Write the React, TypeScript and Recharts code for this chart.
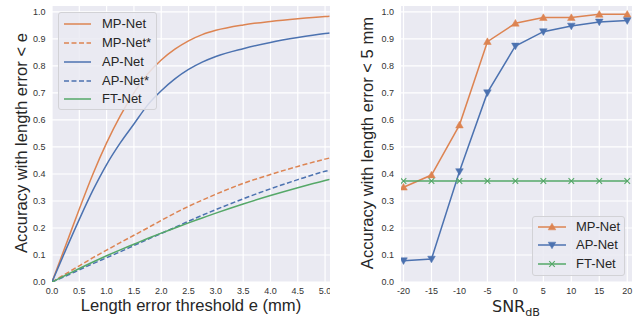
import React from 'react';
import { LineChart, Line, XAxis, YAxis, CartesianGrid } from 'recharts';

// ---------- Left panel data ----------
const LEFT_X = [0, 0.25, 0.5, 0.75, 1, 1.25, 1.5, 1.75, 2, 2.25, 2.5, 2.75, 3, 3.5, 4, 4.5, 5, 5.08];
const MP_NET = [0, 0.135, 0.27, 0.4, 0.515, 0.615, 0.7, 0.77, 0.822, 0.862, 0.893, 0.916, 0.932, 0.952, 0.965, 0.975, 0.983, 0.984];
const MP_NET_STAR = [0, 0.03, 0.06, 0.09, 0.118, 0.146, 0.173, 0.2, 0.228, 0.255, 0.28, 0.303, 0.325, 0.365, 0.398, 0.428, 0.455, 0.459];
const AP_NET = [0, 0.118, 0.232, 0.34, 0.435, 0.515, 0.585, 0.655, 0.708, 0.752, 0.787, 0.814, 0.835, 0.864, 0.887, 0.905, 0.92, 0.922];
const AP_NET_STAR = [0, 0.022, 0.045, 0.068, 0.09, 0.112, 0.135, 0.158, 0.18, 0.202, 0.225, 0.247, 0.268, 0.308, 0.345, 0.379, 0.41, 0.414];
const FT_NET = [0, 0.025, 0.05, 0.074, 0.097, 0.119, 0.14, 0.161, 0.181, 0.2, 0.219, 0.237, 0.255, 0.289, 0.32, 0.349, 0.376, 0.38];
const LEFT_X_TICKS = [0, 0.5, 1, 1.5, 2, 2.5, 3, 3.5, 4, 4.5, 5];

// ---------- Right panel data ----------
const SNR = [-20, -15, -10, -5, 0, 5, 10, 15, 20];
const MP_SNR = [0.351, 0.396, 0.581, 0.89, 0.958, 0.979, 0.979, 0.991, 0.991];
const AP_SNR = [0.079, 0.085, 0.409, 0.701, 0.874, 0.927, 0.948, 0.963, 0.968];
const FT_SNR = [0.374, 0.374, 0.374, 0.374, 0.374, 0.374, 0.374, 0.374, 0.374];
const SNR_TICKS = [-20, -15, -10, -5, 0, 5, 10, 15, 20];

const Y_TICKS = [0, 0.1, 0.2, 0.3, 0.4, 0.5, 0.6, 0.7, 0.8, 0.9, 1.0];

const ORANGE = '#DD8452';
const BLUE = '#4C72B0';
const GREEN = '#55A868';
const BG = '#EAEAF2';
const FONT = '"Liberation Sans", Arial, sans-serif';
const TICK = { fill: '#333333', fontSize: 9, fontFamily: FONT };

const leftData = LEFT_X.map((x, i) => ({
  x,
  mp: MP_NET[i],
  mps: MP_NET_STAR[i],
  ap: AP_NET[i],
  aps: AP_NET_STAR[i],
  ft: FT_NET[i],
}));

const rightData = SNR.map((x, i) => ({ x, mp: MP_SNR[i], ap: AP_SNR[i], ft: FT_SNR[i] }));

const TriUp = ({ cx, cy, color }: any) => {
  if (cx == null || cy == null) return null;
  const s = 3.8;
  return <path d={`M${cx},${cy - s} L${cx + s},${cy + s * 0.75} L${cx - s},${cy + s * 0.75} Z`} fill={color} stroke={color} strokeWidth={0.5} />;
};
const TriDown = ({ cx, cy, color }: any) => {
  if (cx == null || cy == null) return null;
  const s = 3.8;
  return <path d={`M${cx},${cy + s} L${cx + s},${cy - s * 0.75} L${cx - s},${cy - s * 0.75} Z`} fill={color} stroke={color} strokeWidth={0.5} />;
};
const XMark = ({ cx, cy, color }: any) => {
  if (cx == null || cy == null) return null;
  const s = 2.8;
  return (
    <path d={`M${cx - s},${cy - s} L${cx + s},${cy + s} M${cx - s},${cy + s} L${cx + s},${cy - s}`} stroke={color} strokeWidth={1.1} fill="none" />
  );
};

const LEFT_LEGEND = [
  { name: 'MP-Net', color: ORANGE, dash: undefined },
  { name: 'MP-Net*', color: ORANGE, dash: '5 2.5' },
  { name: 'AP-Net', color: BLUE, dash: undefined },
  { name: 'AP-Net*', color: BLUE, dash: '5 2.5' },
  { name: 'FT-Net', color: GREEN, dash: undefined },
];
const RIGHT_LEGEND = [
  { name: 'MP-Net', color: ORANGE, marker: 'up' },
  { name: 'AP-Net', color: BLUE, marker: 'down' },
  { name: 'FT-Net', color: GREEN, marker: 'x' },
];

const legendBox: React.CSSProperties = {
  position: 'absolute',
  background: 'rgba(234,234,242,0.85)',
  border: '1px solid #D2D2D6',
  borderRadius: 3,
  boxSizing: 'border-box',
  fontFamily: FONT,
  fontSize: 13,
  color: '#262626',
};

export default function App() {
  return (
    <div style={{ position: 'absolute', left: 0, top: 0, width: 638, height: 320, background: '#fff', overflow: 'hidden' }}>
      <div style={{ position: 'absolute', left: 0, top: 0 }}>
        <LineChart width={330} height={320} data={leftData} margin={{ top: 6, right: 0, bottom: 0, left: 0 }}>
          <CartesianGrid fill={BG} stroke="#FFFFFF" strokeWidth={1.2} verticalValues={LEFT_X_TICKS} horizontalValues={Y_TICKS} />
          <XAxis
            dataKey="x"
            type="number"
            domain={[0, 5.09]}
            ticks={LEFT_X_TICKS}
            allowDataOverflow
            axisLine={false}
            tickLine={false}
            tickSize={0}
            tickMargin={5.5}
            height={38}
            tick={TICK}
            tickFormatter={(v: number) => v.toFixed(1)}
            interval={0}
          />
          <YAxis
            type="number"
            domain={[0, 1.022]}
            ticks={Y_TICKS}
            allowDataOverflow
            axisLine={false}
            tickLine={false}
            tickSize={0}
            tickMargin={6.5}
            width={52}
            tick={TICK}
            tickFormatter={(v: number) => v.toFixed(1)}
            interval={0}
          />
          <Line type="monotone" dataKey="mp" stroke={ORANGE} strokeWidth={1.5} dot={false} isAnimationActive={false} />
          <Line type="monotone" dataKey="mps" stroke={ORANGE} strokeWidth={1.5} strokeDasharray="5 2.5" dot={false} isAnimationActive={false} />
          <Line type="monotone" dataKey="ap" stroke={BLUE} strokeWidth={1.5} dot={false} isAnimationActive={false} />
          <Line type="monotone" dataKey="aps" stroke={BLUE} strokeWidth={1.5} strokeDasharray="5 2.5" dot={false} isAnimationActive={false} />
          <Line type="monotone" dataKey="ft" stroke={GREEN} strokeWidth={1.5} dot={false} isAnimationActive={false} />
        </LineChart>
      </div>

      <div style={{ position: 'absolute', left: 330, top: 0 }}>
        <LineChart width={308} height={320} data={rightData} margin={{ top: 6, right: 6, bottom: 0, left: 0 }}>
          <CartesianGrid fill={BG} stroke="#FFFFFF" strokeWidth={1.2} verticalValues={SNR_TICKS} horizontalValues={Y_TICKS} />
          <XAxis
            dataKey="x"
            type="number"
            domain={[-20.45, 20.85]}
            ticks={SNR_TICKS}
            allowDataOverflow
            axisLine={false}
            tickLine={false}
            tickSize={0}
            tickMargin={5.5}
            height={38}
            tick={TICK}
            interval={0}
          />
          <YAxis
            type="number"
            domain={[0, 1.022]}
            ticks={Y_TICKS}
            allowDataOverflow
            axisLine={false}
            tickLine={false}
            tickSize={0}
            tickMargin={7}
            width={71}
            tick={TICK}
            tickFormatter={(v: number) => v.toFixed(1)}
            interval={0}
          />
          <Line type="linear" dataKey="mp" stroke={ORANGE} strokeWidth={1.5} isAnimationActive={false}
            dot={(p: any) => <TriUp key={`u${p.index}`} cx={p.cx} cy={p.cy} color={ORANGE} />} />
          <Line type="linear" dataKey="ap" stroke={BLUE} strokeWidth={1.5} isAnimationActive={false}
            dot={(p: any) => <TriDown key={`d${p.index}`} cx={p.cx} cy={p.cy} color={BLUE} />} />
          <Line type="linear" dataKey="ft" stroke={GREEN} strokeWidth={1.5} isAnimationActive={false}
            dot={(p: any) => <XMark key={`x${p.index}`} cx={p.cx} cy={p.cy} color={GREEN} />} />
        </LineChart>
      </div>

      {/* Axis titles */}
      <svg width={638} height={320} style={{ position: 'absolute', left: 0, top: 0, pointerEvents: 'none' }}>
        <text x={191} y={311} textAnchor="middle" fontFamily={FONT} fontSize={16.6} fill="#262626">
          Length error threshold e (mm)
        </text>
        <text x={27} y={143} transform="rotate(-90 27 143)" textAnchor="middle" fontFamily={FONT} fontSize={16.6} fill="#262626">
          Accuracy with length error &lt; e
        </text>
        <text x={373} y={143} transform="rotate(-90 373 143)" textAnchor="middle" fontFamily={FONT} fontSize={16.6} fill="#262626">
          Accuracy with length error &lt; 5 mm
        </text>
        <text x={516} y={311.5} textAnchor="middle" fontFamily='"DejaVu Sans", sans-serif' fill="#262626">
          <tspan fontSize={16}>SNR</tspan>
          <tspan fontSize={11.2} dy={4.5}>dB</tspan>
        </text>
      </svg>

      {/* Left legend */}
      <div style={{ ...legendBox, left: 58, top: 12, width: 99, height: 98 }}>
        {LEFT_LEGEND.map((e, i) => (
          <div key={e.name} style={{ position: 'absolute', left: 0, top: 11.3 + i * 18.75 - 9, height: 18, display: 'flex', alignItems: 'center' }}>
            <svg width={40} height={18} style={{ display: 'block' }}>
              <line x1={5} x2={32} y1={9} y2={9} stroke={e.color} strokeWidth={1.5} strokeDasharray={e.dash} />
            </svg>
            <span style={{ marginLeft: 3, whiteSpace: 'nowrap', lineHeight: '18px' }}>{e.name}</span>
          </div>
        ))}
      </div>

      {/* Right legend */}
      <div style={{ ...legendBox, left: 532, top: 215.5, width: 93, height: 60.5 }}>
        {RIGHT_LEGEND.map((e, i) => (
          <div key={e.name} style={{ position: 'absolute', left: 0, top: 10 + i * 18.8 - 9, height: 18, display: 'flex', alignItems: 'center' }}>
            <svg width={40} height={18} style={{ display: 'block' }}>
              <line x1={5} x2={33} y1={9} y2={9} stroke={e.color} strokeWidth={1.5} />
              {e.marker === 'up' && <TriUp cx={19} cy={9} color={e.color} />}
              {e.marker === 'down' && <TriDown cx={19} cy={9} color={e.color} />}
              {e.marker === 'x' && <XMark cx={19} cy={9} color={e.color} />}
            </svg>
            <span style={{ marginLeft: 3, whiteSpace: 'nowrap', lineHeight: '18px' }}>{e.name}</span>
          </div>
        ))}
      </div>
    </div>
  );
}
